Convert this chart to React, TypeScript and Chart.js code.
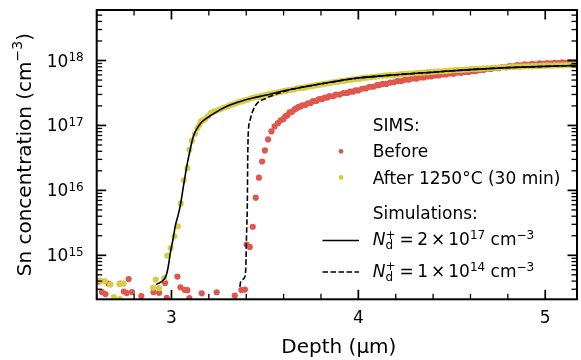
import React, { useEffect, useRef } from "react";
import { Chart, registerables } from "chart.js";

Chart.register(...registerables);

const FONT = '"DejaVu Sans", "Liberation Sans", sans-serif';
const RED = "#e0584d";
const YELLOW = "#d8ce45";

// axis ranges / ticks
const xRange = [2.6, 5.17];
const yRange = [2.1e14, 6e18];
const xMajorTicks = [3, 4, 5];
const yTickExponents = [15, 16, 17, 18];
const xAxisTitle = "Depth (μm)";
const yAxisTitle = "Sn concentration (cm";
const yAxisTitleSup = "−3";

// SIMS "Before": depth (µm) and log10 of concentration (cm^-3)
const beforeDepth = [
  2.612, 2.628, 2.647, 2.663, 2.727, 2.745, 2.761, 2.771, 2.789, 2.839, 2.904, 2.934, 2.966, 2.975,
  3.032, 3.048, 3.07, 3.085, 3.096, 3.162, 3.242, 3.339, 3.374, 3.393, 3.402, 3.419, 3.435, 3.451,
  3.468, 3.485, 3.5, 3.517, 3.535, 3.552, 3.57, 3.585, 3.6, 3.61, 3.62, 3.632, 3.645, 3.658, 3.668,
  3.68, 3.69, 3.7, 3.715, 3.73, 3.745, 3.757, 3.775, 3.79, 3.805, 3.82, 3.835, 3.845, 3.865, 3.88,
  3.9, 3.92, 3.94, 3.955, 3.97, 3.985, 4.0, 4.02, 4.04, 4.06, 4.08, 4.1, 4.112, 4.13, 4.15, 4.17,
  4.19, 4.21, 4.23, 4.25, 4.27, 4.29, 4.31, 4.33, 4.35, 4.37, 4.39, 4.41, 4.43, 4.45, 4.47, 4.49,
  4.51, 4.53, 4.55, 4.57, 4.59, 4.61, 4.63, 4.65, 4.67, 4.69, 4.71, 4.73, 4.75, 4.77, 4.79, 4.81,
  4.83, 4.85, 4.87, 4.89, 4.91, 4.93, 4.95, 4.97, 4.99, 5.01, 5.03, 5.05, 5.07, 5.09, 5.11, 5.13,
  5.15, 5.17,
];
const beforeLog = [
  14.595, 14.434, 14.403, 14.565, 14.565, 14.442, 14.418, 14.634, 14.434, 14.372, 14.431, 14.422, 14.575, 14.345,
  14.672, 14.508, 14.468, 14.462, 14.342, 14.415, 14.431, 14.38, 14.465, 14.472, 15.165, 15.129, 15.44, 15.888,
  16.195, 16.445, 16.615, 16.785, 16.908, 16.985, 17.035, 17.08, 17.1, 17.145, 17.155, 17.2, 17.21, 17.245, 17.262,
  17.285, 17.29, 17.31, 17.315, 17.34, 17.345, 17.375, 17.378, 17.405, 17.405, 17.43, 17.43, 17.452, 17.45, 17.475,
  17.476, 17.5, 17.5, 17.52, 17.52, 17.54, 17.54, 17.565, 17.57, 17.595, 17.596, 17.62, 17.622, 17.64, 17.64, 17.66,
  17.665, 17.685, 17.684, 17.705, 17.705, 17.725, 17.72, 17.74, 17.74, 17.755, 17.755, 17.77, 17.77, 17.785, 17.785, 17.8,
  17.795, 17.815, 17.81, 17.825, 17.825, 17.84, 17.84, 17.855, 17.855, 17.87, 17.87, 17.885, 17.882, 17.9, 17.895, 17.915,
  17.91, 17.93, 17.925, 17.94, 17.935, 17.95, 17.942, 17.955, 17.95, 17.96, 17.955, 17.965, 17.96, 17.97, 17.965, 17.975,
  17.97, 17.978,
];

// SIMS "After 1250°C (30 min)"
const afterDepth = [
  2.618, 2.644, 2.673, 2.692, 2.721, 2.724, 2.743, 2.902, 2.916, 2.934, 2.961, 2.977, 2.996, 3.016,
  3.034, 3.05, 3.066, 3.085, 3.096, 3.109, 3.126, 3.139, 3.15, 3.157, 3.168, 3.18, 3.195, 3.21,
  3.225, 3.24, 3.255, 3.27, 3.285, 3.3, 3.315, 3.33, 3.345, 3.36, 3.375, 3.39, 3.405, 3.42, 3.435,
  3.45, 3.465, 3.48, 3.495, 3.51, 3.525, 3.54, 3.555, 3.57, 3.585, 3.6, 3.615, 3.63, 3.645, 3.66,
  3.675, 3.69, 3.705, 3.72, 3.735, 3.75, 3.765, 3.78, 3.795, 3.81, 3.825, 3.84, 3.855, 3.87, 3.885,
  3.9, 3.915, 3.93, 3.945, 3.96, 3.975, 3.99, 4.005, 4.02, 4.035, 4.05, 4.07, 4.09, 4.11, 4.13,
  4.15, 4.17, 4.19, 4.21, 4.23, 4.25, 4.27, 4.29, 4.31, 4.33, 4.35, 4.37, 4.39, 4.41, 4.43, 4.45,
  4.47, 4.49, 4.51, 4.53, 4.55, 4.57, 4.59, 4.61, 4.63, 4.65, 4.67, 4.69, 4.71, 4.73, 4.75, 4.77,
  4.79, 4.81, 4.83, 4.85, 4.87, 4.89, 4.91, 4.93, 4.95, 4.97, 4.99, 5.01, 5.03, 5.05, 5.07, 5.09,
  5.11, 5.13, 5.15, 5.17,
];
const afterLog = [
  14.61, 14.603, 14.549, 14.357, 14.557, 14.326, 14.565, 14.503, 14.626, 14.495, 14.649, 14.995, 15.111, 15.292,
  15.446, 15.795, 16.154, 16.345, 16.626, 16.765, 16.872, 16.96, 17.01, 17.062, 17.075, 17.098, 17.14, 17.191,
  17.215, 17.225, 17.245, 17.26, 17.28, 17.29, 17.315, 17.325, 17.34, 17.36, 17.37, 17.385, 17.395, 17.41, 17.425,
  17.435, 17.44, 17.455, 17.465, 17.47, 17.485, 17.49, 17.5, 17.51, 17.515, 17.53, 17.535, 17.545, 17.55, 17.56,
  17.57, 17.575, 17.58, 17.59, 17.6, 17.605, 17.615, 17.62, 17.63, 17.635, 17.645, 17.65, 17.66, 17.665, 17.67,
  17.68, 17.685, 17.69, 17.7, 17.705, 17.71, 17.715, 17.72, 17.73, 17.735, 17.74, 17.745, 17.75, 17.76, 17.765,
  17.77, 17.775, 17.775, 17.785, 17.79, 17.795, 17.8, 17.8, 17.81, 17.81, 17.815, 17.82, 17.825, 17.83, 17.835, 17.835,
  17.84, 17.845, 17.85, 17.855, 17.855, 17.86, 17.865, 17.87, 17.87, 17.875, 17.88, 17.88, 17.885, 17.89, 17.89, 17.895,
  17.895, 17.9, 17.9, 17.905, 17.905, 17.91, 17.91, 17.915, 17.915, 17.915, 17.92, 17.92, 17.92, 17.925, 17.925, 17.925,
  17.93, 17.93, 17.93, 17.93,
];

// Simulation, N_d+ = 2e17 cm^-3 (solid)
const simHighDepth = [
  2.917, 2.949, 2.965, 2.976, 2.986, 2.994, 3.008, 3.02, 3.034, 3.047, 3.064, 3.082, 3.1, 3.117,
  3.144, 3.165, 3.189, 3.22, 3.259, 3.3, 3.368, 3.43, 3.51, 3.58, 3.65, 3.75, 3.85, 4.0, 4.2, 4.4,
  4.6, 4.8, 5.0, 5.17,
];
const simHighLog = [
  14.548, 14.6, 14.65, 14.73, 14.88, 15.037, 15.24, 15.446, 15.6, 15.76, 16.06, 16.37, 16.626, 16.83,
  16.985, 17.06, 17.114, 17.17, 17.24, 17.3, 17.37, 17.42, 17.47, 17.52, 17.56, 17.615, 17.665, 17.73, 17.78, 17.82,
  17.86, 17.89, 17.91, 17.925,
];

// Simulation, N_d+ = 1e14 cm^-3 (dashed)
const simLowDepth = [
  3.366, 3.371, 3.393, 3.398, 3.402, 3.406, 3.408, 3.411, 3.419, 3.446, 3.508, 3.579, 3.65, 3.75,
  3.85, 4.0, 4.2, 4.4, 4.6, 4.8, 5.0, 5.17,
];
const simLowLog = [
  14.514, 14.6, 14.668, 14.83, 15.345, 15.806, 16.47, 16.88, 17.06, 17.29, 17.42, 17.5, 17.56, 17.615,
  17.665, 17.73, 17.78, 17.82, 17.86, 17.89, 17.91, 17.925,
];

const legendTitleSims = "SIMS:";
const legendBefore = "Before";
const legendAfter = "After 1250°C (30 min)";
const legendTitleSim = "Simulations:";
const legendSimHigh = { coef: "2", exp: "17" };
const legendSimLow = { coef: "1", exp: "14" };

const toPoints = (xs: number[], ls: number[]) => xs.map((x, i) => ({ x, y: Math.pow(10, ls[i]) }));

type Part = { text?: string; font?: string; dy?: number; gap?: number; stack?: { text: string; font: string; dy: number }[] };

function drawRich(ctx: CanvasRenderingContext2D, x: number, y: number, parts: Part[]) {
  let cx = x;
  for (const p of parts) {
    if (p.gap !== undefined) {
      cx += p.gap;
      continue;
    }
    if (p.stack) {
      let w = 0;
      for (const s of p.stack) {
        ctx.font = s.font;
        ctx.fillText(s.text, cx, y + s.dy);
        w = Math.max(w, ctx.measureText(s.text).width);
      }
      cx += w;
      continue;
    }
    ctx.font = p.font as string;
    ctx.fillText(p.text as string, cx, y + (p.dy || 0));
    cx += ctx.measureText(p.text as string).width;
  }
  return cx;
}

function richWidth(ctx: CanvasRenderingContext2D, parts: Part[]) {
  let w = 0;
  for (const p of parts) {
    if (p.gap !== undefined) w += p.gap;
    else if (p.text !== undefined) {
      ctx.font = p.font as string;
      w += ctx.measureText(p.text).width;
    }
  }
  return w;
}

const f = (size: number, style = "") => `${style} ${size}px ${FONT}`.trim();

const decoPlugin = {
  id: "deco",
  afterDatasetsDraw(chart: any) {
    const { ctx, chartArea: a, scales } = chart;
    const xs = scales.x;
    const ys = scales.y;
    ctx.save();
    ctx.strokeStyle = "#000";
    ctx.fillStyle = "#000";
    ctx.lineCap = "butt";
    const line = (x1: number, y1: number, x2: number, y2: number, w: number) => {
      ctx.lineWidth = w;
      ctx.beginPath();
      ctx.moveTo(x1, y1);
      ctx.lineTo(x2, y2);
      ctx.stroke();
    };
    const MAJ = 9.5;
    const MIN = 5.5;
    // x ticks
    for (let k = Math.ceil(xRange[0] * 5); k <= Math.floor(xRange[1] * 5); k++) {
      const v = k / 5;
      const major = k % 5 === 0;
      const px = xs.getPixelForValue(v);
      const len = major ? MAJ : MIN;
      const w = major ? 1.7 : 1.3;
      line(px, a.bottom, px, a.bottom - len, w);
      line(px, a.top, px, a.top + len, w);
    }
    // y ticks
    for (let n = 14; n <= 18; n++) {
      for (let m = 1; m <= 9; m++) {
        const v = m * Math.pow(10, n);
        if (v < yRange[0] || v > yRange[1]) continue;
        const py = ys.getPixelForValue(v);
        const major = m === 1;
        const len = major ? MAJ : MIN;
        const w = major ? 1.7 : 1.3;
        line(a.left, py, a.left + len, py, w);
        line(a.right, py, a.right - len, py, w);
      }
    }
    // spines
    ctx.lineWidth = 2;
    ctx.strokeRect(a.left, a.top, a.right - a.left, a.bottom - a.top);

    // tick labels
    ctx.textBaseline = "alphabetic";
    ctx.textAlign = "left";
    for (const v of xMajorTicks) {
      const px = xs.getPixelForValue(v);
      ctx.font = f(17);
      const t = String(v);
      const w = ctx.measureText(t).width;
      ctx.fillText(t, px - w / 2, a.bottom + 24);
    }
    for (const e of yTickExponents) {
      const py = ys.getPixelForValue(Math.pow(10, e));
      const parts: Part[] = [
        { text: "10", font: f(17) },
        { text: String(e), font: f(12), dy: -5.5 },
      ];
      const w = richWidth(ctx, parts);
      drawRich(ctx, a.left - 13 - w, py + 6, parts);
    }

    // axis titles
    ctx.font = f(20);
    const xw = ctx.measureText(xAxisTitle).width;
    ctx.fillText(xAxisTitle, (a.left + a.right) / 2 + 2 - xw / 2, 353);

    ctx.save();
    ctx.translate(30.5, (a.top + a.bottom) / 2);
    ctx.rotate(-Math.PI / 2);
    const yParts: Part[] = [
      { text: yAxisTitle, font: f(20) },
      { text: yAxisTitleSup, font: f(14), dy: -8.5 },
      { text: ")", font: f(20) },
    ];
    const yw = richWidth(ctx, yParts);
    drawRich(ctx, -yw / 2, 0, yParts);
    ctx.restore();

    // legend
    const tx = 372.7;
    ctx.font = f(17);
    ctx.fillText(legendTitleSims, tx, 131);
    ctx.fillText(legendBefore, tx, 157);
    ctx.fillText(legendAfter, tx, 183.5);
    ctx.fillText(legendTitleSim, tx, 219);
    ctx.fillStyle = RED;
    ctx.beginPath();
    ctx.arc(341, 151.3, 2.4, 0, Math.PI * 2);
    ctx.fill();
    ctx.fillStyle = YELLOW;
    ctx.beginPath();
    ctx.arc(341, 177.5, 2.4, 0, Math.PI * 2);
    ctx.fill();
    ctx.fillStyle = "#000";
    ctx.lineWidth = 1.6;
    ctx.beginPath();
    ctx.moveTo(322.5, 240.5);
    ctx.lineTo(359, 240.5);
    ctx.stroke();
    ctx.setLineDash([5.5, 2.5]);
    ctx.beginPath();
    ctx.moveTo(322.5, 272);
    ctx.lineTo(359, 272);
    ctx.stroke();
    ctx.setLineDash([]);
    const ndParts = (c: string, e: string): Part[] => [
      { text: "N", font: f(17, "oblique") },
      {
        stack: [
          { text: "+", font: f(12), dy: -6.5 },
          { text: "d", font: f(12), dy: 4 },
        ],
      },
      { gap: 4 },
      { text: "=", font: f(17) },
      { gap: 3.5 },
      { text: c, font: f(17) },
      { gap: 3 },
      { text: "×", font: f(17) },
      { gap: 3 },
      { text: "10", font: f(17) },
      { text: e, font: f(12), dy: -6 },
      { text: " cm", font: f(17) },
      { text: "−3", font: f(12), dy: -6 },
    ];
    drawRich(ctx, tx, 245, ndParts(legendSimHigh.coef, legendSimHigh.exp));
    drawRich(ctx, tx, 276.7, ndParts(legendSimLow.coef, legendSimLow.exp));
    ctx.restore();
  },
};

export default function App() {
  const ref = useRef<HTMLCanvasElement | null>(null);
  useEffect(() => {
    document.body.style.margin = "0";
    const canvas = ref.current;
    if (!canvas) return;
    const chart = new Chart(canvas, {
      type: "scatter",
      data: {
        datasets: [
          {
            label: "sim low",
            data: toPoints(simLowDepth, simLowLog),
            showLine: true,
            borderColor: "#000",
            borderWidth: 1.6,
            borderDash: [5.5, 2.5],
            pointRadius: 0,
            cubicInterpolationMode: "monotone",
            order: 0,
          },
          {
            label: "sim high",
            data: toPoints(simHighDepth, simHighLog),
            showLine: true,
            borderColor: "#000",
            borderWidth: 1.6,
            pointRadius: 0,
            cubicInterpolationMode: "monotone",
            order: 1,
          },
          {
            label: legendAfter,
            data: toPoints(afterDepth, afterLog),
            backgroundColor: YELLOW,
            pointRadius: 3.1,
            pointBorderWidth: 0,
            clip: 0,
            order: 2,
          },
          {
            label: legendBefore,
            data: toPoints(beforeDepth, beforeLog),
            backgroundColor: RED,
            pointRadius: 3.1,
            pointBorderWidth: 0,
            clip: 0,
            order: 3,
          },
        ],
      },
      options: {
        animation: false,
        responsive: false,
        devicePixelRatio: 1,
        events: [],
        layout: { padding: { left: 96.7, right: 2.7, top: 10, bottom: 60.7 } },
        plugins: { legend: { display: false }, tooltip: { enabled: false } },
        scales: {
          x: { type: "linear", min: xRange[0], max: xRange[1], display: false },
          y: { type: "logarithmic", min: yRange[0], max: yRange[1], display: false },
        },
      },
      plugins: [decoPlugin],
    } as any);
    return () => chart.destroy();
  }, []);
  return (
    <div style={{ position: "absolute", left: 0, top: 0, width: 581, height: 360, background: "#fff" }}>
      <canvas ref={ref} width={581} height={360} />
    </div>
  );
}
